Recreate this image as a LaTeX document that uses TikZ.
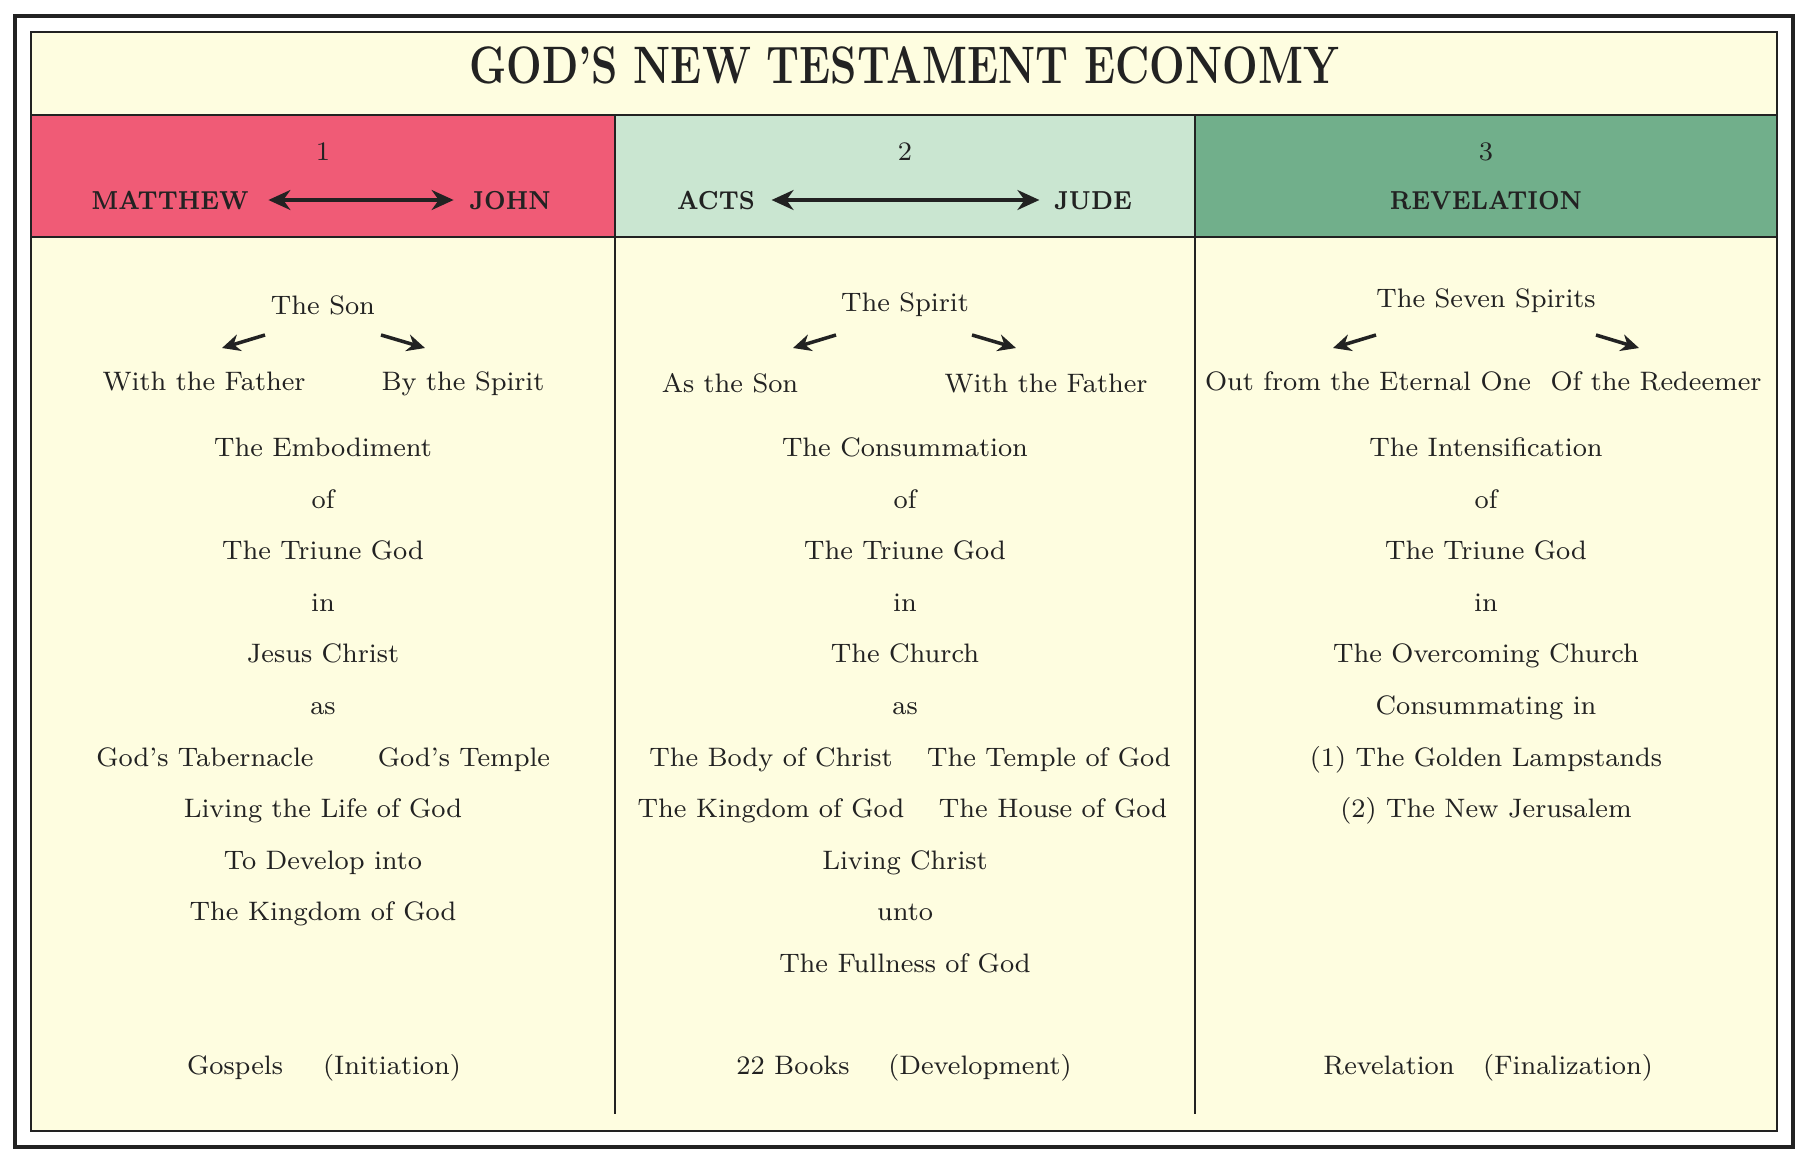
\documentclass[tikz,border=0pt]{standalone}
\usepackage{graphicx}
\usetikzlibrary{calc,math,arrows.meta}
\definecolor{cream}{RGB}{254,253,224}
\definecolor{hdred}{RGB}{240,91,118}
\definecolor{hdmint}{RGB}{202,230,209}
\definecolor{hdgreen}{RGB}{113,175,139}
\definecolor{ink}{RGB}{34,34,34}
\newcommand\bodyfont{\fontsize{7.6}{9}\selectfont}
\newcommand\bookname[1]{\scalebox{0.86}[1]{#1}}

\tikzset{
  txt/.style={font=\bodyfont, text=ink, inner sep=0pt, text height=1.7ex, text depth=.45ex},
  book/.style={txt, font=\fontsize{7.4}{9}\selectfont\bfseries},
  ttl/.style={inner sep=0pt, text=ink, font=\fontsize{15}{17}\selectfont\bfseries},
  dbl/.style={{Stealth[length=2.2mm,width=2mm]}-{Stealth[length=2.2mm,width=2mm]}, line width=0.9pt, ink},
  arr/.style={-{Stealth[length=1.8mm,width=1.7mm]}, line width=1pt, ink},
}

\begin{document}
\begin{tikzpicture}[x=0.1mm,y=-0.1mm]
\tikzmath{
\cA=323; \cB=905; \cC=1486;
\dy=51.6; \yo=447;
}
\useasboundingbox (0,0) rectangle (1810,1162);

% frames and header bands
\draw[ink,line width=1.4pt] (15,16) rectangle (1793,1147);
\fill[cream] (31,32) rectangle (1777,1131);
\fill[hdred] (31,115) rectangle (615,237);
\fill[hdmint] (615,115) rectangle (1195,237);
\fill[hdgreen] (1195,115) rectangle (1777,237);
\draw[ink,line width=0.6pt] (31,32) rectangle (1777,1131);
\draw[ink,line width=0.7pt] (31,115) -- (1777,115) (31,237) -- (1777,237);
\draw[ink,line width=0.7pt] (615,115) -- (615,1114) (1195,115) -- (1195,1114);

\node[ttl] (title) at (904,65) {\scalebox{0.8}[1]{GOD’S NEW TESTAMENT ECONOMY}};

% header
\node[txt] (num1) at (\cA,151) {1};
\node[book] (mat) at (170,200) {\bookname{MATTHEW}};
\node[book] (joh) at (510,200) {\bookname{JOHN}};
\draw[dbl, shorten <=1.9mm, shorten >=1.5mm] (mat) -- (joh);

\node[txt] (num2) at (\cB,151) {2};
\node[book] (act) at (716,200) {\bookname{ACTS}};
\node[book] (jud) at (1093,200) {\bookname{JUDE}};
\draw[dbl, shorten <=1.6mm, shorten >=1.4mm] (act) -- (jud);

\node[txt] (num3) at (\cC,151) {3};
\node[book] (rev) at (\cC,200) {\bookname{REVELATION}};

% column 1
\node[txt] (son) at (\cA,305) {The Son};
\node[txt] (sfa) at (204,381) {With the Father};
\node[txt] (sbs) at (463,381) {By the Spirit};
\draw[arr] ($(son.south)+(-58,13)$) -- ($(sfa.north)+(18,-16)$);
\draw[arr] ($(son.south)+(58,13)$) -- ($(sbs.north)+(-38,-16)$);

\node[txt] (a0) at (\cA,\yo) {The Embodiment};
\node[txt] (a1) at (\cA,\yo+\dy) {of};
\node[txt] (a2) at (\cA,\yo+2*\dy) {The Triune God};
\node[txt] (a3) at (\cA,\yo+3*\dy) {in};
\node[txt] (a4) at (\cA,\yo+4*\dy) {Jesus Christ};
\node[txt] (a5) at (\cA,\yo+5*\dy) {as};
\node[txt] (a6l) at (205,\yo+6*\dy) {God’s Tabernacle};
\node[txt] (a6r) at (464,\yo+6*\dy) {God’s Temple};
\node[txt] (a7) at (\cA,\yo+7*\dy) {Living the Life of God};
\node[txt] (a8) at (\cA,\yo+8*\dy) {To Develop into};
\node[txt] (a9) at (\cA,\yo+9*\dy) {The Kingdom of God};
\node[txt] (gos) at (235,1065) {Gospels};
\node[txt] (ini) at (392,1065) {(Initiation)};

% column 2
\node[txt] (spi) at (\cB,302) {The Spirit};
\node[txt] (asn) at (730,383) {As the Son};
\node[txt] (wfa) at (1046,383) {With the Father};
\draw[arr] ($(spi.south)+(-69,16)$) -- ($(asn.north)+(63,-18)$);
\draw[arr] ($(spi.south)+(67,16)$) -- ($(wfa.north)+(-30,-18)$);

\node[txt] (b0) at (\cB,\yo) {The Consummation};
\node[txt] (b1) at (\cB,\yo+\dy) {of};
\node[txt] (b2) at (\cB,\yo+2*\dy) {The Triune God};
\node[txt] (b3) at (\cB,\yo+3*\dy) {in};
\node[txt] (b4) at (\cB,\yo+4*\dy) {The Church};
\node[txt] (b5) at (\cB,\yo+5*\dy) {as};
\node[txt] (b6l) at (771,\yo+6*\dy) {The Body of Christ};
\node[txt] (b6r) at (1049,\yo+6*\dy) {The Temple of God};
\node[txt] (b7l) at (771,\yo+7*\dy) {The Kingdom of God};
\node[txt] (b7r) at (1053,\yo+7*\dy) {The House of God};
\node[txt] (b8) at (\cB,\yo+8*\dy) {Living Christ};
\node[txt] (b9) at (\cB,\yo+9*\dy) {unto};
\node[txt] (b10) at (\cB,\yo+10*\dy) {The Fullness of God};
\node[txt] (bks) at (793,1065) {22 Books};
\node[txt] (dev) at (980,1065) {(Development)};

% column 3
\node[txt] (sev) at (\cC,298) {The Seven Spirits};
\node[txt] (out) at (1368,381) {Out from the Eternal One};
\node[txt] (red) at (1656,381) {Of the Redeemer};
\draw[arr] ($(sev.south)+(-110,20)$) -- ($(out.north)+(-35,-16)$);
\draw[arr] ($(sev.south)+(110,20)$) -- ($(red.north)+(-17,-16)$);

\node[txt] (c0) at (\cC,\yo) {The Intensification};
\node[txt] (c1) at (\cC,\yo+\dy) {of};
\node[txt] (c2) at (\cC,\yo+2*\dy) {The Triune God};
\node[txt] (c3) at (\cC,\yo+3*\dy) {in};
\node[txt] (c4) at (\cC,\yo+4*\dy) {The Overcoming Church};
\node[txt] (c5) at (\cC,\yo+5*\dy) {Consummating in};
\node[txt] (c6) at (\cC,\yo+6*\dy) {(1) The Golden Lampstands};
\node[txt] (c7) at (\cC,\yo+7*\dy) {(2) The New Jerusalem};
\node[txt] (rvl) at (1389,1065) {Revelation};
\node[txt] (fin) at (1568,1065) {(Finalization)};
\end{tikzpicture}
\end{document}
